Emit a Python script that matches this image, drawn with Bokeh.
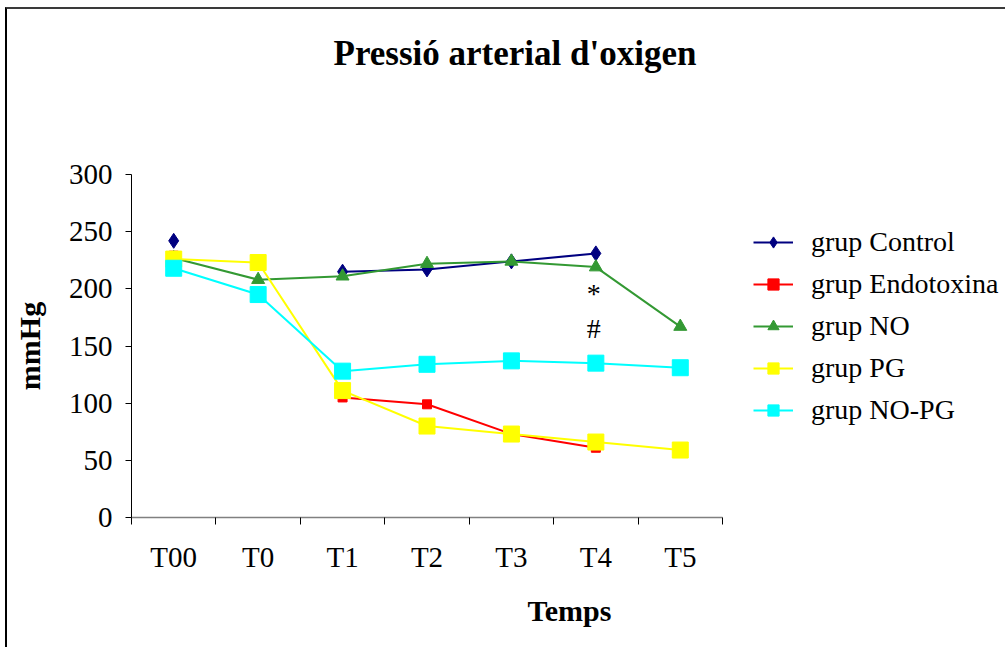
from bokeh.plotting import figure
from bokeh.models import Legend, LegendItem, FixedTicker, Title, Range1d
from bokeh.core.properties import value
from bokeh.embed import file_html
from bokeh.resources import INLINE

nan = float("nan")

# ---- data ----
categories = ["T00", "T0", "T1", "T2", "T3", "T4", "T5"]
grup_control = [242, nan, 215, 217, 224, 231, nan]
grup_endotoxina = [229, nan, 105, 99, 73, 61, nan]
grup_no = [227, 208, 211, 222, 224, 219, 167]
grup_pg = [226, 223, 111, 80, 73, 66, 59]
grup_no_pg = [218, 195, 128, 134, 137, 135, 131]
y_ticks = [0, 50, 100, 150, 200, 250, 300]
annot_text = ["*", "#"]
annot_cat = ["T4", "T4"]
annot_y = [196, 165]

FONT = "Liberation Serif"

xs = [i + 0.5 for i in range(len(categories))]
n_cat = len(categories)

# plot frame spans to the right edge so the legend (drawn inside) is not clipped;
# the x axis is bounded to the category span.
FRAME_W = 1000 - 124
CAT_W = 591 / n_cat
x_end = FRAME_W / CAT_W

p = figure(width=1000, height=640, output_backend="svg", toolbar_location=None,
           x_range=Range1d(0, x_end), y_range=Range1d(0, 300),
           min_border_left=124, min_border_right=0, min_border_top=165,
           min_border_bottom=132)
p.margin = (7, 0, 0, 5)
p.styles = {"border-top": "2px solid #3a3a3a", "border-left": "2px solid #000000"}
p.outline_line_color = None
p.xgrid.visible = False
p.ygrid.visible = False
p.background_fill_color = "white"
p.border_fill_color = "white"

# spacer between title and plot frame
p.add_layout(Title(text=" ", text_font_size="2px", standoff=98), "above")
p.title = Title(text="Pressió arterial d'oxigen", align="left",
                text_font=FONT, text_font_size="35px", text_font_style="bold",
                text_color="black", standoff=0, offset=202)

# x axis
xa = p.xaxis[0]
xa.bounds = (0, n_cat)
xa.ticker = FixedTicker(ticks=xs, minor_ticks=list(range(n_cat + 1)))
xa.major_label_overrides = {x: c for x, c in zip(xs, categories)}
xa.major_tick_out = 0
xa.major_tick_in = 0
xa.major_tick_line_color = None
xa.minor_tick_out = 7
xa.minor_tick_in = 0
xa.minor_tick_line_color = "black"
xa.axis_line_color = "#808080"
xa.axis_line_width = 1.5
xa.major_label_text_font = FONT
xa.major_label_text_font_size = "29px"
xa.major_label_text_color = "black"
xa.major_label_standoff = 16
xa.axis_label = "Temps"
xa.axis_label_text_font = FONT
xa.axis_label_text_font_size = "30px"
xa.axis_label_text_font_style = "bold"
xa.axis_label_text_color = "black"
xa.axis_label_standoff = 18

# y axis
ya = p.yaxis[0]
ya.ticker = FixedTicker(ticks=y_ticks)
ya.major_tick_out = 6
ya.major_tick_in = 0
ya.minor_tick_line_color = None
ya.major_tick_line_color = "black"
ya.axis_line_color = "black"
ya.major_label_text_font = FONT
ya.major_label_text_font_size = "29px"
ya.major_label_text_color = "black"
ya.major_label_standoff = 13
ya.axis_label = "mmHg"
ya.axis_label_text_font = FONT
ya.axis_label_text_font_size = "30px"
ya.axis_label_text_font_style = "bold"
ya.axis_label_text_color = "black"
ya.axis_label_standoff = 20

series = [
    ("grup Control", grup_control, "#000080", "diamond", 15),
    ("grup Endotoxina", grup_endotoxina, "#FF0000", "square", 9),
    ("grup NO", grup_no, "#339933", "triangle", 13),
    ("grup PG", grup_pg, "#FFFF00", "square", 16),
    ("grup NO-PG", grup_no_pg, "#00FFFF", "square", 16),
]

items = []
for name, vals, color, marker, size in series:
    ln = p.line(xs, vals, line_color=color, line_width=2)
    sc = p.scatter(xs, vals, marker=marker, size=size,
                   fill_color=color, line_color=color)
    items.append(LegendItem(label=name, renderers=[ln, sc]))

ax_x = [xs[categories.index(c)] for c in annot_cat]
p.text(x=ax_x, y=annot_y, text=annot_text, text_font=value(FONT),
       text_font_size="28px", text_align="center", text_baseline="middle",
       text_color="black", x_offset=-2)

legend = Legend(items=items, location=(622, 91), padding=0, margin=0,
                border_line_color=None, background_fill_alpha=0,
                glyph_width=40, glyph_height=28, label_height=32,
                label_standoff=18, spacing=10,
                label_text_font=FONT, label_text_font_size="28px",
                label_text_color="black")
p.add_layout(legend)

open("out.html", "w").write(file_html(p, INLINE))
